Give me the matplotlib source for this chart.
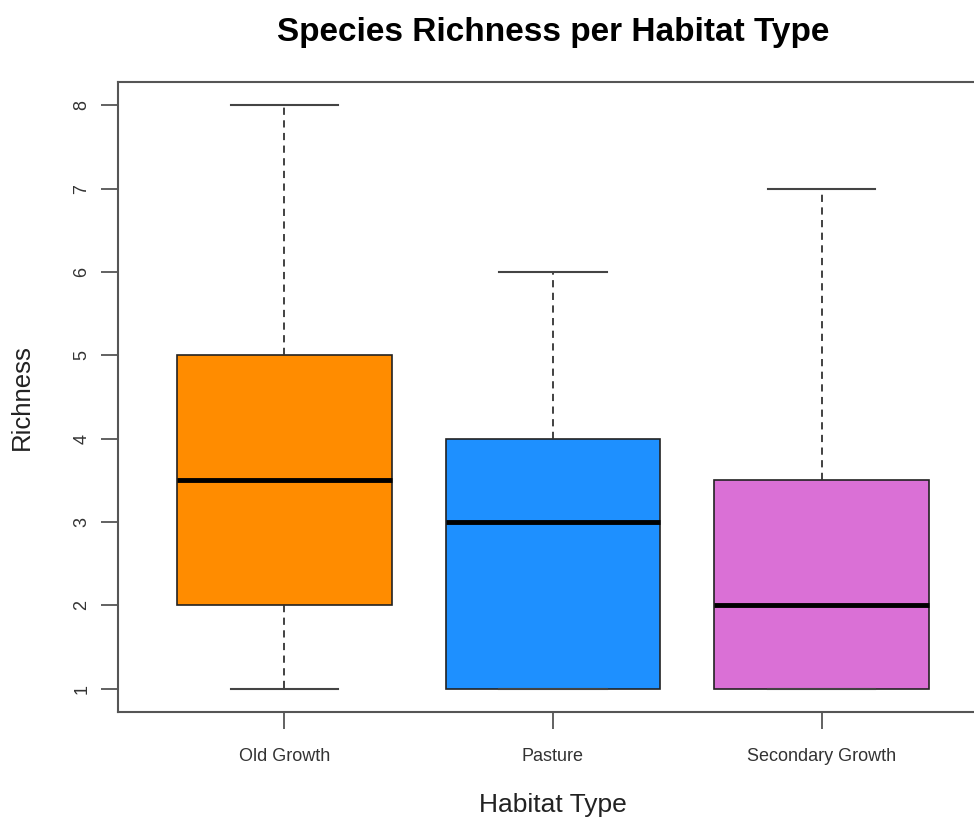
import matplotlib
matplotlib.use("Agg")
import matplotlib.pyplot as plt

categories = ["Old Growth", "Pasture", "Secondary Growth"]
mins = [1, 1, 1]
q1s = [2, 1, 1]
medians = [3.5, 3, 2]
q3s = [5, 4, 3.5]
maxs = [8, 6, 7]
colors = ["#FF8C00", "#1E90FF", "#DA70D6"]
yticks = [1, 2, 3, 4, 5, 6, 7, 8]

plt.rcParams['font.family'] = ['Liberation Sans', 'DejaVu Sans']

W, H = 974, 823
fig = plt.figure(figsize=(W / 100, H / 100), dpi=100)
left, right, top, bottom = 118, 988, 82, 712
ax = fig.add_axes([left / W, 1 - bottom / H, (right - left) / W, (bottom - top) / H])

stats = []
for c, lo, a, m, b, hi in zip(categories, mins, q1s, medians, q3s, maxs):
    stats.append(dict(label=c, whislo=lo, q1=a, med=m, q3=b, whishi=hi, fliers=[]))

bp = ax.bxp(stats, positions=[1, 2, 3], widths=0.8, patch_artist=True,
            showfliers=False,
            boxprops=dict(edgecolor="#222222", linewidth=1.2),
            medianprops=dict(color="black", linewidth=3.5, solid_capstyle="butt"),
            whiskerprops=dict(color="#333333", linewidth=1.3, linestyle=(0, (4, 3))),
            capprops=dict(color="#444444", linewidth=1.5),
            capwidths=0.4)
for patch, col in zip(bp["boxes"], colors):
    patch.set_facecolor(col)

ax.set_xlim(0.38, 3.62)
ax.set_ylim(0.72, 8.28)
ax.set_yticks(yticks)
ax.set_yticklabels([str(v) for v in yticks], rotation=90, va="center")
ax.set_xticks([1, 2, 3])
ax.set_xticklabels(categories)

for s in ax.spines.values():
    s.set_color("#555555")
    s.set_linewidth(1.5)
ax.tick_params(axis="both", length=12, width=1.3, color="#555555",
               labelcolor="#333333", labelsize=13)
ax.tick_params(axis="y", pad=8)
ax.tick_params(axis="x", pad=14)

fig.text((left + right) / 2 / W, 1 - 32 / H, "Species Richness per Habitat Type",
         ha="center", va="center", fontsize=24, fontweight="bold", color="black")
fig.text(22 / W, 1 - 397 / H, "Richness", rotation=90, ha="center", va="center",
         fontsize=18.5, color="#222222")
fig.text((left + right) / 2 / W, 1 - 805 / H, "Habitat Type", ha="center",
         va="center", fontsize=19, color="#222222")

fig.savefig("out.png", dpi=100)
